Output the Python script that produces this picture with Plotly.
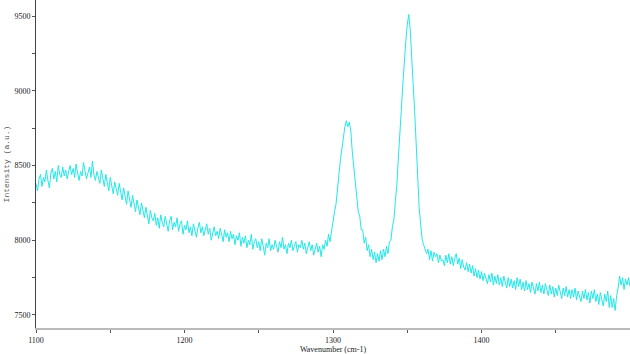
import plotly.graph_objects as go

# Wavenumber grid (cm-1), one reading per cm-1
wavenumber = list(range(1100, 1501))

# Intensity readings (a.u.), 1100 .. 1500 cm-1
intensity = [
    8380, 8330, 8410, 8440, 8360, 8420, 8390, 8470, 8400, 8350,
    8450, 8480, 8410, 8460, 8390, 8500, 8440, 8420, 8490, 8430,
    8470, 8410, 8460, 8500, 8440, 8480, 8420, 8510, 8450, 8400,
    8460, 8430, 8520, 8470, 8410, 8450, 8490, 8420, 8530, 8440,
    8400, 8460, 8420, 8380, 8470, 8410, 8360, 8440, 8390, 8330,
    8420, 8370, 8310, 8390, 8350, 8300, 8380, 8320, 8270, 8350,
    8290, 8240, 8330, 8270, 8220, 8300, 8250, 8190, 8270, 8230,
    8170, 8250, 8200, 8150, 8220, 8160, 8110, 8200, 8150, 8130,
    8180, 8100, 8150, 8080, 8170, 8120, 8090, 8160, 8110, 8060,
    8130, 8160, 8070, 8120, 8090, 8150, 8060, 8110, 8130, 8040,
    8100, 8070, 8130, 8050, 8090, 8030, 8110, 8070, 8020, 8080,
    8120, 8050, 8090, 8030, 8070, 8110, 8040, 8080, 8000, 8060,
    8090, 8030, 8060, 8010, 8080, 8040, 7990, 8070, 8020, 8050,
    7990, 8060, 8010, 8040, 7970, 8030, 8000, 8050, 7960, 8020,
    7980, 8030, 7950, 8000, 7970, 8040, 7940, 7990, 8010, 7950,
    7990, 7930, 8010, 7960, 7900, 7980, 7950, 8010, 7930, 7970,
    7940, 8000, 7960, 7920, 7990, 7950, 8020, 7940, 7970, 7910,
    7980, 7950, 8000, 7930, 7960, 7990, 7920, 7970, 7950, 8000,
    7940, 7980, 7910, 7960, 7990, 7930, 7970, 7900, 7950, 7980,
    7920, 7960, 7890, 7970, 7940, 8000, 7960, 8040, 7990, 8070,
    8110, 8190, 8240, 8350, 8410, 8540, 8610, 8710, 8760, 8800,
    8760, 8790, 8730, 8590, 8490, 8360, 8290, 8190, 8160, 8070,
    8070, 7980, 8020, 7930, 7970, 7890, 7940, 7870, 7920, 7850,
    7910, 7860, 7930, 7870, 7940, 7890, 7960, 7910, 7990, 8000,
    8090, 8140, 8260, 8370, 8550, 8690, 8870, 9040, 9210, 9330,
    9440, 9510, 9410, 9260, 9040, 8860, 8610, 8410, 8220, 8110,
    8010, 7970, 7930, 7910, 7940, 7870, 7930, 7860, 7920, 7890,
    7910, 7850, 7900, 7860, 7870, 7830, 7900, 7850, 7910, 7840,
    7890, 7830, 7880, 7910, 7840, 7880, 7810, 7870, 7820, 7800,
    7850, 7790, 7840, 7780, 7830, 7760, 7810, 7750, 7800, 7740,
    7790, 7730, 7780, 7740, 7710, 7770, 7720, 7780, 7700, 7760,
    7710, 7770, 7700, 7750, 7690, 7760, 7710, 7680, 7750, 7690,
    7740, 7680, 7730, 7670, 7750, 7690, 7740, 7670, 7720, 7660,
    7730, 7670, 7710, 7650, 7720, 7680, 7640, 7710, 7660, 7720,
    7650, 7700, 7640, 7710, 7660, 7630, 7700, 7640, 7690, 7620,
    7680, 7630, 7700, 7640, 7610, 7680, 7630, 7690, 7620, 7670,
    7610, 7670, 7620, 7680, 7600, 7660, 7620, 7590, 7660, 7610,
    7670, 7600, 7650, 7580, 7660, 7610, 7670, 7590, 7640, 7570,
    7650, 7600, 7560, 7640, 7590, 7660, 7550, 7630, 7550, 7610,
    7530, 7630, 7680, 7760, 7700, 7750, 7670, 7740, 7700, 7750,
    7690,
]

x_tick_vals = [1100, 1200, 1300, 1400]
x_tick_text = ["1100", "1200", "1300", "1400"]
y_tick_vals = [7500, 8000, 8500, 9000, 9500]
y_tick_text = ["7500", "8000", "8500", "9000", "9500"]

fig = go.Figure()
fig.add_trace(go.Scatter(
    x=wavenumber, y=intensity, mode="lines",
    line=dict(color="#22e8e8", width=1),
    showlegend=False, hoverinfo="skip",
))

tick_font = dict(family="Liberation Serif", size=8, color="#222222")

fig.update_layout(
    width=630, height=354,
    margin=dict(l=36, r=0, t=0, b=26),
    paper_bgcolor="white", plot_bgcolor="white",
    xaxis=dict(
        range=[1100, 1500],
        tickvals=x_tick_vals, ticktext=x_tick_text,
        ticks="outside", ticklen=3, tickcolor="#555555",
        minor=dict(dtick=50, tick0=1100, ticks="outside", ticklen=3, tickcolor="#555555"),
        showline=True, linecolor="#bbbbbb", linewidth=2,
        showgrid=False, zeroline=False,
        tickfont=tick_font,
        title=dict(text="Wavenumber (cm-1)", font=dict(family="Liberation Serif", size=8, color="#222222"), standoff=1),
    ),
    yaxis=dict(
        range=[7413, 9607],
        tickvals=y_tick_vals, ticktext=y_tick_text,
        ticks="outside", ticklen=3, tickcolor="#555555",
        minor=dict(dtick=250, tick0=7500, ticks="outside", ticklen=3, tickcolor="#555555"),
        showline=True, linecolor="#444444", linewidth=1,
        showgrid=False, zeroline=False,
        tickfont=tick_font,
        title=dict(text="Intensity (a.u.)", font=dict(family="Liberation Mono", size=8, color="#555555"), standoff=3),
    ),
)

fig.write_html(
    "out.html",
    config={"displayModeBar": False},
    post_script="document.body.style.margin='0';document.body.style.padding='0';",
)
